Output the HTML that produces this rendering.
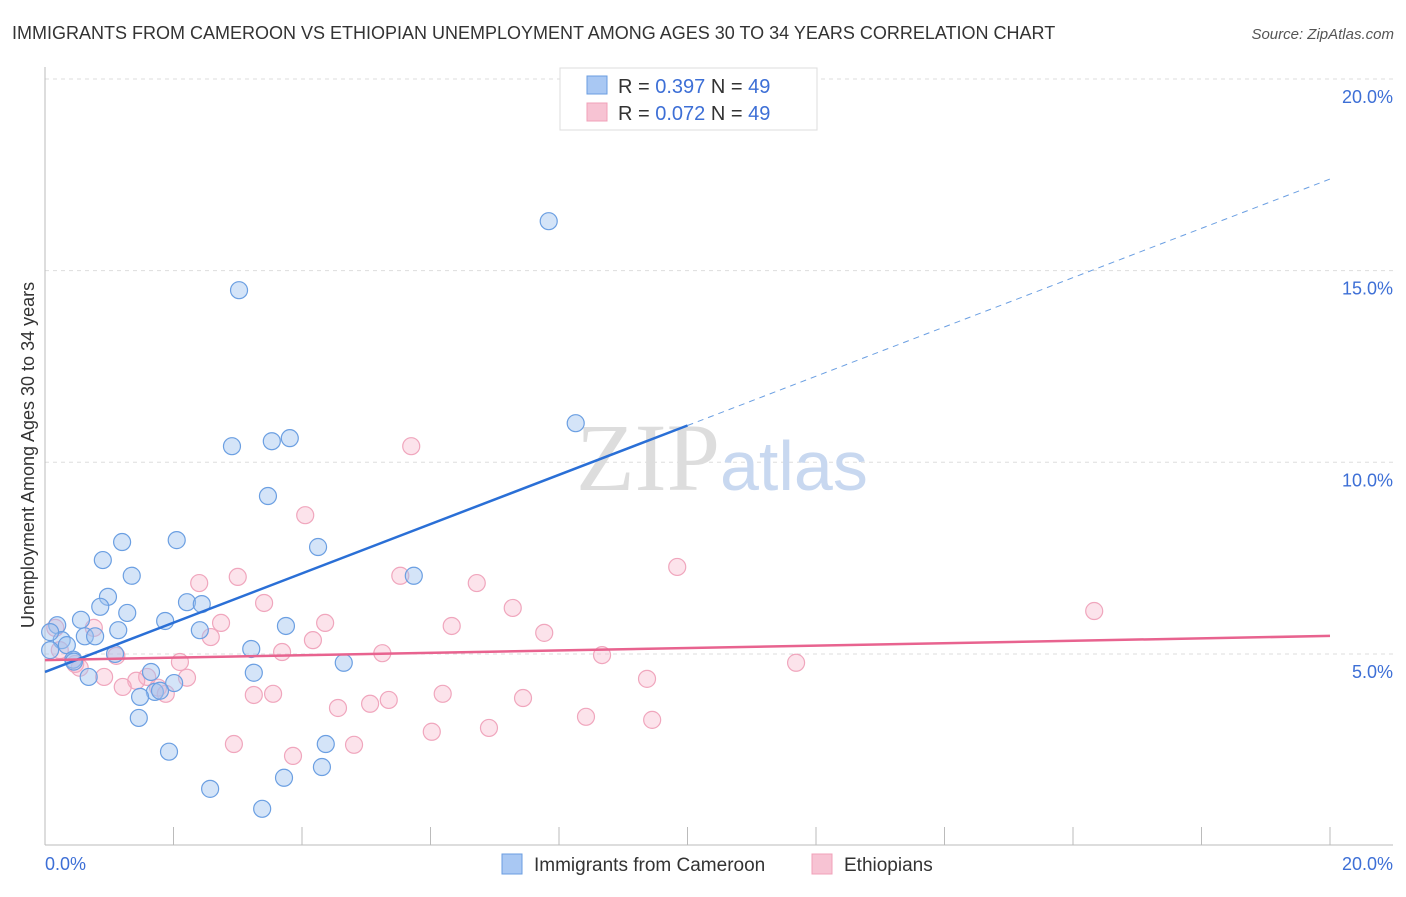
<!DOCTYPE html>
<html><head><meta charset="utf-8"><style>
body{margin:0;background:#fff;font-family:"Liberation Sans",sans-serif;}
</style></head><body>
<svg width="1406" height="892" font-family="Liberation Sans, sans-serif">
<text x="12" y="39" font-size="18" fill="#333">IMMIGRANTS FROM CAMEROON VS ETHIOPIAN UNEMPLOYMENT AMONG AGES 30 TO 34 YEARS CORRELATION CHART</text>
<text x="1394" y="39" font-size="15" fill="#555" font-style="italic" text-anchor="end">Source: ZipAtlas.com</text>
<g id="grid"></g>
<text x="720" y="490" font-size="96" font-family="Liberation Serif, serif" fill="#ddd" text-anchor="end">ZIP</text>
<text x="720" y="490" font-size="70" fill="#c8d8f0">atlas</text>
<g id="marks"></g>
<text transform="translate(34,455) rotate(-90)" font-size="18" fill="#333" text-anchor="middle">Unemployment Among Ages 30 to 34 years</text>
<text x="45" y="870" font-size="18" fill="#3d6fd6">0.0%</text>
<text x="1393" y="870" font-size="18" fill="#3d6fd6" text-anchor="end">20.0%</text>
<g>
<rect x="560" y="68" width="257" height="62" fill="#fff" stroke="#ddd"/>
<rect x="587" y="76" width="20" height="18" fill="#a9c8f3" stroke="#6a9de0"/>
<rect x="587" y="103" width="20" height="18" fill="#f7c3d3" stroke="#f0a0b8"/>
<text x="618" y="93" font-size="20" fill="#333">R = <tspan fill="#3d6fd6">0.397</tspan>   N = <tspan fill="#3d6fd6">49</tspan></text>
<text x="618" y="120" font-size="20" fill="#333">R = <tspan fill="#3d6fd6">0.072</tspan>   N = <tspan fill="#3d6fd6">49</tspan></text>
</g>
<g>
<rect x="502" y="854" width="20" height="20" fill="#a9c8f3" stroke="#6a9de0"/>
<text x="534" y="871" font-size="19" fill="#333">Immigrants from Cameroon</text>
<rect x="812" y="854" width="20" height="20" fill="#f7c3d3" stroke="#f0a0b8"/>
<text x="844" y="871" font-size="19" fill="#333">Ethiopians</text>
</g>
</svg>
<script>
const blueX=[7.84,3.02,8.26,2.91,3.53,3.81,3.47,4.25,1.20,2.05,0.90,1.35,5.74,0.98,0.86,1.28,2.21,2.44,0.56,1.87,0.19,1.14,2.41,3.75,0.62,0.78,0.26,0.34,3.21,1.09,0.44,4.65,3.25,1.65,0.68,2.01,1.71,1.79,1.48,1.46,4.37,1.93,4.31,3.72,2.57,3.38,0.08,0.08,0.45];
const blueY=[16.29,14.49,11.02,10.42,10.55,10.63,9.12,7.79,7.92,7.97,7.45,7.04,7.04,6.49,6.23,6.07,6.35,6.30,5.89,5.86,5.75,5.62,5.62,5.73,5.46,5.46,5.36,5.23,5.13,5.00,4.85,4.77,4.51,4.53,4.40,4.24,4.01,4.04,3.88,3.33,2.65,2.45,2.05,1.77,1.48,0.96,5.57,5.10,4.80];
const pinkX=[5.70,4.05,9.84,5.53,3.00,2.40,6.72,3.41,7.28,16.33,2.74,4.36,6.33,0.76,7.77,2.58,4.17,3.69,5.25,8.67,0.16,0.23,1.11,2.10,11.69,0.47,0.54,0.92,2.21,1.59,1.42,9.37,1.21,1.76,1.88,3.55,6.19,3.25,5.35,7.44,5.06,4.56,8.42,9.45,6.91,6.02,2.94,4.81,3.86];
const pinkY=[10.42,8.62,7.27,7.04,7.01,6.85,6.85,6.33,6.20,6.12,5.81,5.81,5.73,5.68,5.55,5.44,5.36,5.05,5.02,4.97,5.68,5.10,4.95,4.79,4.77,4.74,4.64,4.40,4.38,4.40,4.30,4.35,4.14,4.12,3.96,3.96,3.96,3.93,3.80,3.85,3.70,3.59,3.36,3.28,3.07,2.97,2.65,2.63,2.34];
const yTicks=[5,10,15,20];
const yTickLabels=["5.0%","10.0%","15.0%","20.0%"];
const xTicks=[0,2,4,6,8,10,12,14,16,18,20];
const blueLine=[4.53,0.643], pinkLine=[4.84,0.0315];
const NS="http://www.w3.org/2000/svg";
const X=v=>45+v*64.25, Y=v=>845.6-v*38.33;
function mk(t,a,p){const e=document.createElementNS(NS,t);for(const k in a)e.setAttribute(k,a[k]);p.appendChild(e);return e;}
const g=document.getElementById('grid'), m=document.getElementById('marks');
yTicks.forEach((t,i)=>{
 const l=mk('line',{x1:45,x2:1393,y1:Y(t),y2:Y(t),stroke:'#ddd','stroke-dasharray':'4,4'},g);
 
 
 const tx=mk('text',{x:1393,y:Y(t)+24,'font-size':18,fill:'#3d6fd6','text-anchor':'end'},g);
 tx.textContent=yTickLabels[i];
 
 
});
const ax=mk('line',{x1:45,x2:45,y1:67,y2:845,stroke:'#bbb'},g);


const bx=mk('line',{x1:45,x2:1393,y1:845,y2:845,stroke:'#bbb'},g);


xTicks.forEach(t=>{
 const l=mk('line',{x1:X(t),x2:X(t),y1:827,y2:845,stroke:'#bbb'},g);
 
 
});
function pts(xs,ys,fill,stroke,name){xs.forEach((x,i)=>{
 const c=mk('circle',{cx:X(x),cy:Y(ys[i]),r:8.5,fill:fill,stroke:stroke,'stroke-width':1.2},m);
 
 
});}
pts(pinkX,pinkY,'rgba(245,175,198,0.35)','#f0a6bd','ethiopians-point');
pts(blueX,blueY,'rgba(160,196,240,0.45)','#6b9fe2','cameroon-point');
let l=mk('line',{x1:X(0),y1:Y(blueLine[0]),x2:X(10),y2:Y(blueLine[0]+10*blueLine[1]),stroke:'#2a6fd6','stroke-width':2.5},m);


l=mk('line',{x1:X(10),y1:Y(blueLine[0]+10*blueLine[1]),x2:X(20),y2:Y(blueLine[0]+20*blueLine[1]),stroke:'#6b9fe2','stroke-width':1,'stroke-dasharray':'6,5'},m);


l=mk('line',{x1:X(0),y1:Y(pinkLine[0]),x2:X(20),y2:Y(pinkLine[0]+20*pinkLine[1]),stroke:'#e8638f','stroke-width':2.5},m);


</script>
</body></html>
